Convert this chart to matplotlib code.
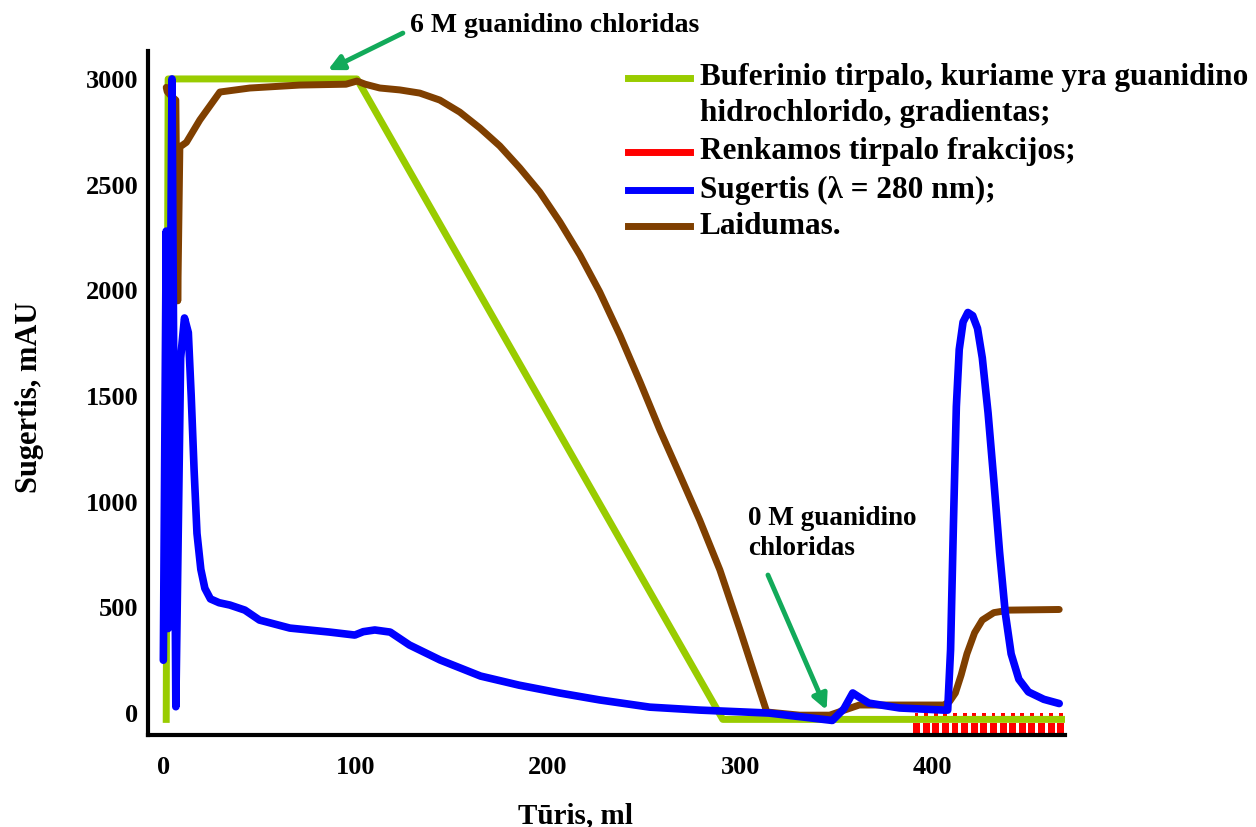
import matplotlib
matplotlib.use("Agg")
import matplotlib.pyplot as plt
from matplotlib.lines import Line2D

plt.rcParams['font.family'] = ['Liberation Serif', 'DejaVu Serif']
plt.rcParams['font.weight'] = 'bold'
plt.rcParams['axes.labelweight'] = 'bold'

# buffer gradient (guanidine HCl), drawn on the mAU scale
grad_x = [1.5, 2.5, 100.7, 291, 468]
grad_y = [-30, 3000, 3000, -30, -30]

# conductivity
cond_x = [1.5, 2.0, 4.0, 6.5, 7.5, 8.6, 12, 19, 29.4, 45, 71, 95, 100.7, 105, 112.6,
          123, 133.4, 143.8, 154.2, 164.6, 175, 185.4, 195.8, 206.3, 216.7, 227,
          237.5, 248, 258.3, 268.7, 279, 289.5, 300, 307.6, 313.9, 331, 346.6, 362,
          406, 409, 412, 415, 418, 422, 426, 432, 440, 466]
cond_y = [2960, 2940, 2920, 2900, 1950, 2678, 2700, 2806, 2938, 2957, 2971, 2975, 2990,
          2975, 2957, 2948, 2933, 2900, 2843, 2768, 2683, 2579, 2465, 2323, 2167, 1992,
          1788, 1566, 1339, 1126, 913, 677, 393, 180, 5, -10, -10, 38,
          38, 55, 95, 180, 280, 380, 440, 475, 487, 490]

# absorbance at 280 nm
abs_x = [0.0, 1.5, 2.5, 4.5, 6.5, 9.0, 11.0, 13.0, 14.5, 16.0, 17.5, 19.5, 21.6, 24.5,
         29.0, 34.6, 42.4, 50, 65.8, 86.6, 99.6, 104, 110, 118, 128, 144, 165, 185,
         206, 227, 253, 279, 315, 348, 354, 358.6, 362, 367, 383, 406, 408, 409.5,
         411, 412.5, 414, 416, 418.5, 421, 423.5, 426, 429, 432, 435, 438, 441, 445,
         450, 458, 466]
abs_y = [250, 2280, 400, 3000, 30, 1680, 1869, 1800, 1500, 1150, 850, 680, 590, 540,
         522, 511, 487, 440, 402, 383, 369, 385, 393, 383, 322, 251, 175, 132,
         95, 62, 28, 14, 0, -35, 20, 95, 75, 47, 24, 14, 14, 300,
         900, 1450, 1720, 1850, 1895, 1880, 1820, 1680, 1420, 1100, 760, 470, 280, 160,
         100, 65, 45]

# collected fractions (start volumes, ml)
frac_x = [390, 395, 400, 405, 410, 415, 420, 425, 430, 435, 440, 445, 450, 455, 460, 465]

x_ticks = [0, 100, 200, 300, 400]
y_ticks = [0, 500, 1000, 1500, 2000, 2500, 3000]

legend_labels = ['Buferinio tirpalo, kuriame yra guanidino\nhidrochlorido, gradientas;',
                 'Renkamos tirpalo frakcijos;',
                 'Sugertis (λ = 280 nm);',
                 'Laidumas.']

GREEN = '#99cc00'
RED = '#ff0000'
BLUE = '#0000ff'
BROWN = '#7f3f00'
ARROW = '#12aa5a'

fig = plt.figure(figsize=(12.56, 8.27), dpi=100)
ax = fig.add_axes([0.1178, 0.1112, 0.7301, 0.8271])

# fractions: two rows of red marks under the baseline
ax.bar(frac_x, 57, width=3.6, bottom=-104, align='edge', color=RED, zorder=1)
ax.bar([f + 0.8 for f in frac_x], 19, width=2.0, bottom=-19, align='edge', color=RED, zorder=1)

ax.plot(grad_x, grad_y, color=GREEN, lw=5, solid_joinstyle='round', zorder=2)
ax.plot(cond_x, cond_y, color=BROWN, lw=5, solid_joinstyle='round',
        solid_capstyle='round', zorder=3)
ax.plot(abs_x, abs_y, color=BLUE, lw=5.5, solid_joinstyle='round',
        solid_capstyle='round', zorder=4)

ax.set_xlim(-8, 469)
ax.set_ylim(-104, 3132)
ax.set_xticks(x_ticks)
ax.set_yticks(y_ticks)
ax.tick_params(length=0, labelsize=19)
ax.tick_params(axis='x', pad=15)
ax.tick_params(axis='y', pad=7)
for s in ['top', 'right']:
    ax.spines[s].set_visible(False)
for s in ['left', 'bottom']:
    ax.spines[s].set_linewidth(3)

ax.set_xlabel('Tūris, ml', fontsize=21, va='center')
ax.xaxis.set_label_coords(0.4657, -0.117)
ax.set_ylabel('Sugertis, mAU', fontsize=22, va='center')
ax.yaxis.set_label_coords(-0.1287, 0.494)

# annotations
ax.annotate('', xy=(85.6, 3042), xytext=(124.6, 3217), annotation_clip=False,
            arrowprops=dict(arrowstyle='-|>,head_length=0.9,head_width=0.45',
                            color=ARROW, lw=3.5, shrinkA=0, shrinkB=0))
ax.text(128.3, 3255, '6 M guanidino chloridas', fontsize=20, ha='left', va='center',
        clip_on=False)
ax.annotate('', xy=(345, 14), xytext=(314.5, 653), annotation_clip=False,
            arrowprops=dict(arrowstyle='-|>,head_length=0.9,head_width=0.45',
                            color=ARROW, lw=3.5, shrinkA=0, shrinkB=0))
ax.text(304, 848, '0 M guanidino\nchloridas', fontsize=19.5, ha='left', va='center',
        linespacing=1.25)

# legend, laid out by hand
W, H = 1256.0, 827.0
leg_colors = [GREEN, RED, BLUE, BROWN]
leg_rows = [78, 152, 190, 226]
for lab, col, py in zip(legend_labels, leg_colors, leg_rows):
    fig.add_artist(Line2D([628 / W, 690 / W], [1 - py / H, 1 - py / H], color=col, lw=5))
    lines = lab.split('\n')
    for i, line in enumerate(lines):
        fig.text(700 / W, 1 - (py + 36 * i) / H, line, fontsize=22.5, va='center', ha='left')

fig.savefig('out.png', dpi=100)
